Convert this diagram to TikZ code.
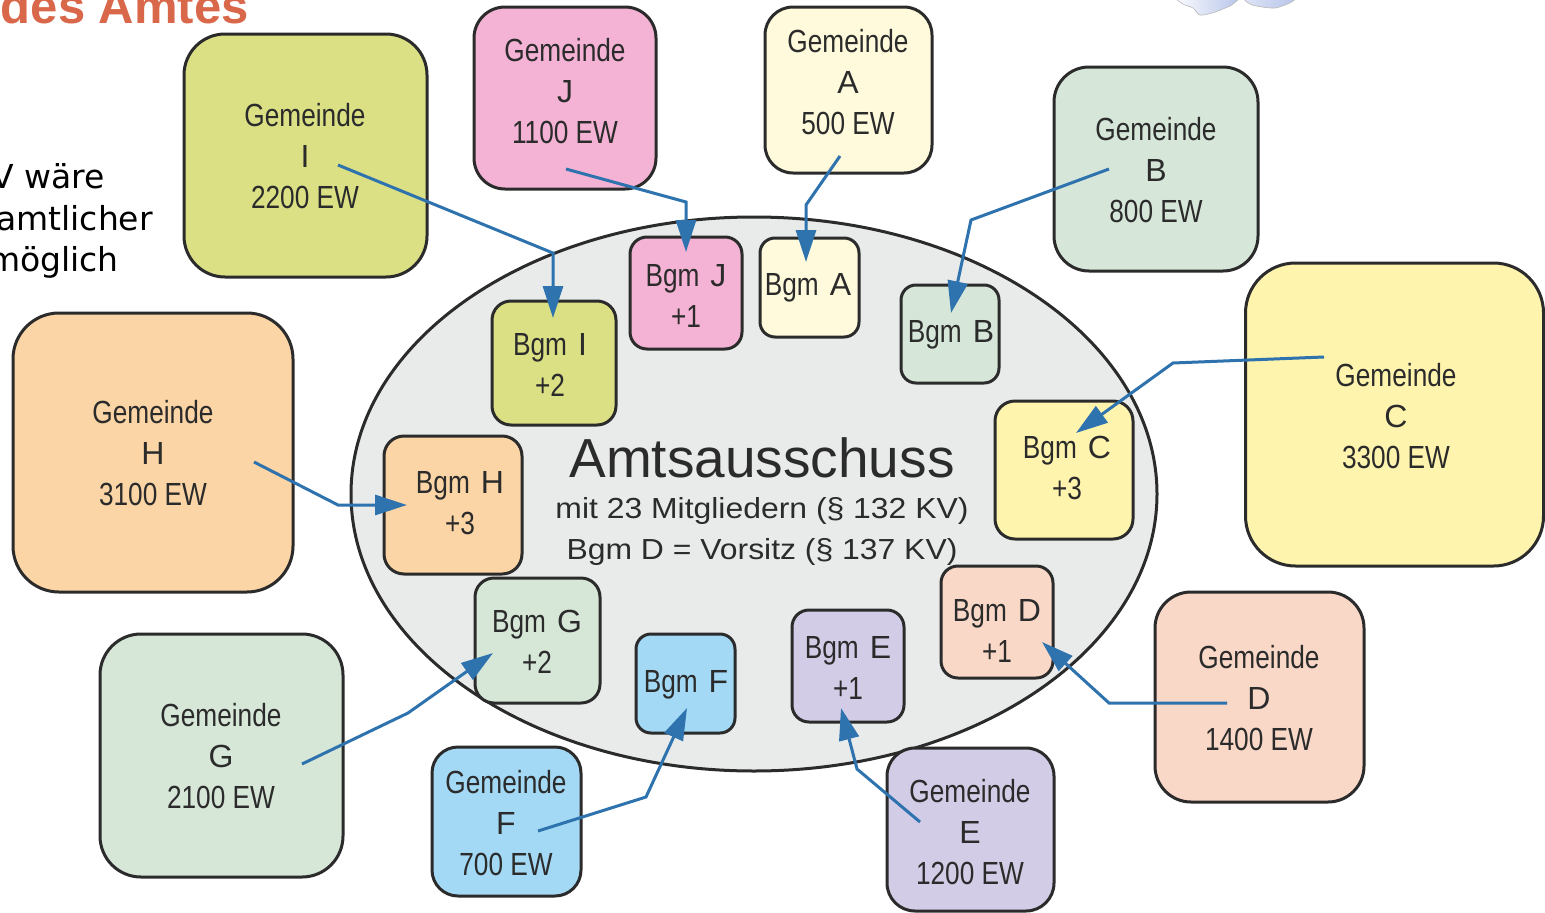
\documentclass[tikz,border=0pt]{standalone}
\usepackage{fontspec}
\setmainfont{Liberation Sans}
\newfontfamily\cond{Liberation Sans}[FakeStretch=0.82]
\newfontfamily\widefont{Liberation Sans}[FakeStretch=1.1]
\newfontfamily\dejavu{DejaVu Sans}
\usetikzlibrary{arrows.meta,shapes.geometric}
\definecolor{bordc}{HTML}{2B2B2B}
\definecolor{txtc}{HTML}{2B2B2B}
\definecolor{arrc}{HTML}{2E72AE}
\definecolor{ellc}{HTML}{E9EBEB}
\definecolor{titc}{HTML}{D9674A}
\definecolor{cI}{HTML}{DBE085}
\definecolor{cJ}{HTML}{F4B3D4}
\definecolor{cA}{HTML}{FFFADB}
\definecolor{cB}{HTML}{D6E7DA}
\definecolor{cC}{HTML}{FFF4AE}
\definecolor{cH}{HTML}{FBD5A5}
\definecolor{cG}{HTML}{D6E7D8}
\definecolor{cF}{HTML}{A3D9F5}
\definecolor{cE}{HTML}{D2CCE6}
\definecolor{cD}{HTML}{F9D8C8}
\definecolor{cloudc}{HTML}{B4C2EA}
\newcommand\gemtext[2]{\begin{tabular}[t]{@{}c@{}}{\cond Gemeinde}\\#1\\{\cond #2}\end{tabular}}
\newcommand\bgmtwo[2]{\begin{tabular}[t]{@{}c@{}}{\cond Bgm}\hspace{11pt}#1\\{\cond #2}\end{tabular}}
\newcommand\bgmone[1]{{\cond Bgm}\hspace{11pt}#1}
\begin{document}
\begin{tikzpicture}[x=1pt,y=-1pt,
  gbox/.style={draw=bordc, line width=3pt, inner sep=0pt},
  btxt/.style={anchor=base, inner sep=0pt, text=txtc,
    font=\fontsize{32}{41}\selectfont},
  link/.style={draw=arrc, line width=3pt, line join=miter,
    -{Triangle[length=32pt,width=20pt]}},
  sidetxt/.style={anchor=base east, text=black, inner sep=0pt,
    font=\dejavu\fontsize{33}{40}\selectfont}]
\useasboundingbox (0,0) rectangle (1545,913);

% cloud fragments at top
\shade[left color=white, right color=cloudc, draw=gray!55, line width=0.6pt]
  plot[smooth cycle] coordinates {(1179,-3)(1183,4)(1193,8)(1200,15)(1212,13)(1223,9)(1233,4)(1236,-4)};
\shade[left color=white!60!cloudc, right color=cloudc, draw=gray!55, line width=0.6pt]
  plot[smooth cycle] coordinates {(1246,-3)(1250,4)(1262,7)(1275,8)(1285,5)(1293,1)(1295,-4)};

% heading fragment and side text
\node[anchor=base east, text=titc, inner sep=0pt, font=\bfseries\fontsize{49}{50}\selectfont] (head) at (249,23) {des Amtes};
\node[sidetxt] (s1) at (105,188) {V wäre};
\node[sidetxt] (s2) at (153,230) {amtlicher};
\node[sidetxt] (s3) at (119,271) {möglich};

% committee ellipse
\node[ellipse, draw=bordc, fill=ellc, line width=3pt, minimum width=806pt, minimum height=554pt, inner sep=0pt] (aus) at (754,494) {};
\node[anchor=base, text=txtc, inner sep=0pt, font=\fontsize{55}{60}\selectfont] (t1) at (762,477) {Amtsausschuss};
\node[anchor=base, text=txtc, inner sep=0pt, font=\widefont\fontsize{29}{35}\selectfont] (t2) at (762,518) {mit 23 Mitgliedern (§ 132 KV)};
\node[anchor=base, text=txtc, inner sep=0pt, font=\widefont\fontsize{29}{35}\selectfont] (t3) at (762,559) {Bgm D = Vorsitz (§ 137 KV)};

% Gemeinden (boxes)
\node[gbox, fill=cI, rounded corners=41pt, minimum width=243pt, minimum height=243pt] (gI) at (305.5,155.5) {};
\node[gbox, fill=cJ, rounded corners=31pt, minimum width=182pt, minimum height=182pt] (gJ) at (565,98) {};
\node[gbox, fill=cA, rounded corners=28pt, minimum width=167pt, minimum height=166pt] (gA) at (848.5,90) {};
\node[gbox, fill=cB, rounded corners=35pt, minimum width=204pt, minimum height=204pt] (gB) at (1156,169) {};
\node[gbox, fill=cC, rounded corners=50pt, minimum width=298pt, minimum height=303pt] (gC) at (1394.5,414.5) {};
\node[gbox, fill=cH, rounded corners=46pt, minimum width=280pt, minimum height=279pt] (gH) at (153,452.5) {};
\node[gbox, fill=cG, rounded corners=41pt, minimum width=243pt, minimum height=243pt] (gG) at (221.5,755.5) {};
\node[gbox, fill=cF, rounded corners=26pt, minimum width=149pt, minimum height=149pt] (gF) at (506.5,821.5) {};
\node[gbox, fill=cE, rounded corners=28pt, minimum width=167pt, minimum height=163pt] (gE) at (970.5,829.5) {};
\node[gbox, fill=cD, rounded corners=36pt, minimum width=209pt, minimum height=210pt] (gD) at (1259.5,697) {};

% Gemeinden (texts)
\node[btxt] (tgI) at (305,126.5) {\gemtext{I}{2200 EW}};
\node[btxt] (tgJ) at (565,61.5) {\gemtext{J}{1100 EW}};
\node[btxt] (tgA) at (848,52.5) {\gemtext{A}{500 EW}};
\node[btxt] (tgB) at (1156,140.5) {\gemtext{B}{800 EW}};
\node[btxt] (tgC) at (1396,386.5) {\gemtext{C}{3300 EW}};
\node[btxt] (tgH) at (153,423.5) {\gemtext{H}{3100 EW}};
\node[btxt] (tgG) at (221,726.5) {\gemtext{G}{2100 EW}};
\node[btxt] (tgF) at (506,793.5) {\gemtext{F}{700 EW}};
\node[btxt] (tgE) at (970,802.5) {\gemtext{E}{1200 EW}};
\node[btxt] (tgD) at (1259,668.5) {\gemtext{D}{1400 EW}};

% Buergermeister (boxes)
\node[gbox, fill=cI, rounded corners=19pt, minimum width=124pt, minimum height=124pt] (bI) at (554,363) {};
\node[gbox, fill=cJ, rounded corners=17pt, minimum width=112pt, minimum height=112pt] (bJ) at (686,293) {};
\node[gbox, fill=cA, rounded corners=15pt, minimum width=99pt, minimum height=99pt] (bA) at (809.5,287.5) {};
\node[gbox, fill=cB, rounded corners=15pt, minimum width=98pt, minimum height=98pt] (bB) at (950,334) {};
\node[gbox, fill=cC, rounded corners=20pt, minimum width=138pt, minimum height=138pt] (bC) at (1064,470) {};
\node[gbox, fill=cH, rounded corners=20pt, minimum width=138pt, minimum height=138pt] (bH) at (453,505) {};
\node[gbox, fill=cG, rounded corners=19pt, minimum width=125pt, minimum height=125pt] (bG) at (537.5,640.5) {};
\node[gbox, fill=cF, rounded corners=15pt, minimum width=99pt, minimum height=99pt] (bF) at (685.5,683.5) {};
\node[gbox, fill=cE, rounded corners=17pt, minimum width=112pt, minimum height=112pt] (bE) at (848,666) {};
\node[gbox, fill=cD, rounded corners=17pt, minimum width=112pt, minimum height=112pt] (bD) at (997,622) {};

% Buergermeister (texts)
\node[btxt] (tbI) at (550,355.5) {\bgmtwo{I}{+2}};
\node[btxt] (tbJ) at (686,286.5) {\bgmtwo{J}{+1}};
\node[btxt] (tbA) at (808,295.5) {\bgmone{A}};
\node[btxt] (tbB) at (951,342.5) {\bgmone{B}};
\node[btxt] (tbC) at (1067,458.5) {\bgmtwo{C}{+3}};
\node[btxt] (tbH) at (460,493.5) {\bgmtwo{H}{+3}};
\node[btxt] (tbG) at (537,632.5) {\bgmtwo{G}{+2}};
\node[btxt] (tbF) at (686,692.5) {\bgmone{F}};
\node[btxt] (tbE) at (848,658.5) {\bgmtwo{E}{+1}};
\node[btxt] (tbD) at (997,621.5) {\bgmtwo{D}{+1}};

% connector end points
\coordinate (sI) at (338,165);   \coordinate (eI) at (553,318);
\coordinate (sJ) at (566,169);   \coordinate (eJ) at (686,252);
\coordinate (sA) at (840,156);   \coordinate (eA) at (806,262);
\coordinate (sB) at (1109,169);  \coordinate (eB) at (951,313);
\coordinate (sC) at (1324,357);  \coordinate (eC) at (1076,433);
\coordinate (sH) at (254,462);   \coordinate (eH) at (407,505);
\coordinate (sG) at (302,764);   \coordinate (eG) at (493,653);
\coordinate (sF) at (538,831);   \coordinate (eF) at (687,708);
\coordinate (sE) at (920,822);   \coordinate (eE) at (841,708);
\coordinate (sD) at (1227,703);  \coordinate (eD) at (1042,642);

\draw[link] (sI) -- (553,253) -- (eI);
\draw[link] (sJ) -- (686,202) -- (eJ);
\draw[link] (sA) -- (806,205) -- (eA);
\draw[link] (sB) -- (971,220) -- (eB);
\draw[link] (sC) -- (1173,363) -- (eC);
\draw[link] (sH) -- (338,505) -- (eH);
\draw[link] (sG) -- (408,713) -- (eG);
\draw[link] (sF) -- (646,797) -- (eF);
\draw[link] (sE) -- (857,769) -- (eE);
\draw[link] (sD) -- (1109,703) -- (eD);
\end{tikzpicture}
\end{document}
